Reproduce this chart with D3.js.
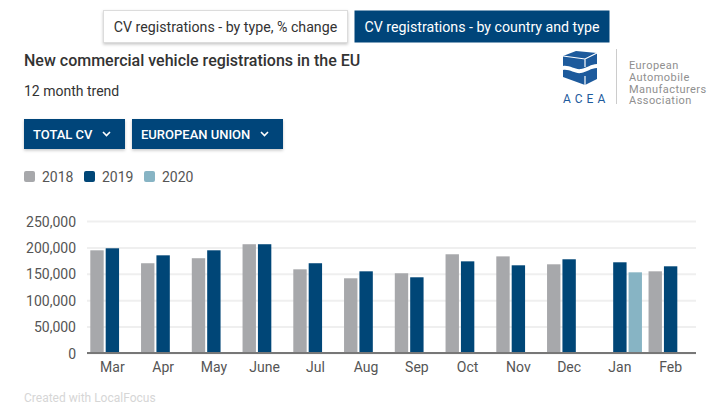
<!DOCTYPE html>
<html>
<head>
<meta charset="utf-8">
<script src="https://cdn.jsdelivr.net/npm/d3@7/dist/d3.min.js"></script>
<style>
  html, body { margin: 0; padding: 0; background: #fff; }
  svg { display: block; font-family: Roboto, "Noto Sans", sans-serif; }
</style>
</head>
<body>
<svg id="chart" width="717" height="413"></svg>
<script>
// ---- data ----
const months = ["Mar", "Apr", "May", "June", "Jul", "Aug", "Sep", "Oct", "Nov", "Dec", "Jan", "Feb"];
const years = ["2018", "2019", "2020"];
const values2018 = [194500, 170000, 179500, 206000, 158500, 141500, 151000, 187000, 183000, 168000, null, 154700];
const values2019 = [198300, 185000, 194500, 206000, 170000, 154700, 143400, 173600, 166100, 177500, 171800, 164200];
const values2020 = [null, null, null, null, null, null, null, null, null, null, 152800, null];
const yTicks = [0, 50000, 100000, 150000, 200000, 250000];
const tabLabels = ["CV registrations - by type, % change", "CV registrations - by country and type"];
const dropdownLabels = ["TOTAL CV", "EUROPEAN UNION"];
const logoLines = ["European", "Automobile", "Manufacturers", "Association"];

const colors = { "2018": "#a7a8ab", "2019": "#004677", "2020": "#87b4c4" };
const seriesByYear = { "2018": values2018, "2019": values2019, "2020": values2020 };

const svg = d3.select("#chart");
const defs = svg.append("defs");
const f = defs.append("filter").attr("id", "shadow").attr("x", "-10%").attr("y", "-20%").attr("width", "120%").attr("height", "160%");
f.append("feDropShadow").attr("dx", 0).attr("dy", 1.5).attr("stdDeviation", 1.5).attr("flood-color", "#000").attr("flood-opacity", 0.22);

// ---- tabs ----
const tabs = [
  { x: 103, w: 245, fill: "#ffffff", color: "#333", stroke: "#dcdcdc" },
  { x: 354, w: 256, fill: "#00457a", color: "#ffffff", stroke: "none" }
];
tabs.forEach((t, i) => {
  svg.append("rect").attr("x", t.x + 0.5).attr("y", 10.5).attr("width", t.w - 1).attr("height", 32)
    .attr("fill", t.fill).attr("stroke", t.stroke).attr("filter", i === 0 ? "url(#shadow)" : null);
  svg.append("text").attr("x", t.x + t.w / 2).attr("y", 31.5).attr("text-anchor", "middle")
    .attr("font-size", 14.2).attr("fill", t.color).text(tabLabels[i]);
});

// ---- title ----
svg.append("text").attr("x", 24).attr("y", 66).attr("font-size", 16).attr("font-weight", 500)
  .attr("fill", "#333").text("New commercial vehicle registrations in the EU");
svg.append("text").attr("x", 24).attr("y", 96).attr("font-size", 14).attr("fill", "#333").text("12 month trend");

// ---- logo ----
const logo = svg.append("g").attr("transform", "translate(563,51)");
const logoBlue = "#1d5a9c";
logo.append("path").attr("fill", logoBlue)
  .attr("d", "M0,5 L13,0 L34,2 L34,13 C28,13 24,17 18,18 C12,19 7,14 0,15 Z");
logo.append("path").attr("fill", "none").attr("stroke", "#fff").attr("stroke-width", 1.2)
  .attr("d", "M0,5 L22,8 L34,2 M22,8 L22,16");
logo.append("path").attr("fill", logoBlue)
  .attr("d", "M0,19 C7,18 12,23 18,22 C24,21 28,17 34,17 L34,28 L22,34 L0,26 Z");
logo.append("path").attr("fill", "none").attr("stroke", "#fff").attr("stroke-width", 1.2)
  .attr("d", "M22,25 L22,34");
logo.append("text").attr("x", 0).attr("y", 52).attr("font-size", 12).attr("letter-spacing", 4)
  .attr("fill", logoBlue).text("ACEA");
svg.append("line").attr("x1", 616.5).attr("x2", 616.5).attr("y1", 49).attr("y2", 104)
  .attr("stroke", "#ccc").attr("stroke-width", 1);
logoLines.forEach((t, i) => {
  svg.append("text").attr("x", 629).attr("y", 69 + i * 11.8).attr("font-size", 11)
    .attr("fill", "#8f8f8f").attr("letter-spacing", 0.45).text(t);
});

// ---- dropdowns ----
const dd = [{ x: 24, w: 101 }, { x: 132, w: 151 }];
dd.forEach((d, i) => {
  svg.append("rect").attr("x", d.x).attr("y", 119).attr("width", d.w).attr("height", 30)
    .attr("fill", "#00457a").attr("filter", "url(#shadow)");
  svg.append("text").attr("x", d.x + 9).attr("y", 139).attr("font-size", 13).attr("font-weight", 500)
    .attr("fill", "#fff").text(dropdownLabels[i]);
  const cx = d.x + d.w - 18.5;
  svg.append("path").attr("d", `M${cx - 3.5},${132} L${cx},${135.5} L${cx + 3.5},${132}`)
    .attr("fill", "none").attr("stroke", "#fff").attr("stroke-width", 1.6);
});

// ---- legend ----
const legendX = [24, 84, 144];
years.forEach((y, i) => {
  svg.append("rect").attr("x", legendX[i]).attr("y", 171).attr("width", 11).attr("height", 11)
    .attr("rx", 2).attr("fill", colors[y]);
  svg.append("text").attr("x", legendX[i] + 18).attr("y", 181.5).attr("font-size", 14)
    .attr("fill", "#555").text(y);
});

// ---- chart ----
const x0 = d3.scaleBand().domain(months).range([87, 696]).paddingInner(0.13).paddingOuter(0.065);
const x1 = d3.scaleBand().domain(years).range([0, x0.bandwidth()]).paddingInner(0.13);
const y = d3.scaleLinear().domain([0, 250000]).range([353, 221]);

const yAxis = svg.append("g").attr("transform", "translate(87,0)")
  .call(d3.axisLeft(y).tickValues(yTicks).tickSize(-609).tickFormat(d3.format(",")));
yAxis.select(".domain").remove();
yAxis.selectAll(".tick line").attr("stroke", "#efefef").attr("stroke-width", 2);
yAxis.selectAll(".tick text").attr("x", -11).attr("dy", "0.36em").attr("font-size", 14)
  .attr("font-family", "Roboto").attr("fill", "#555");

const barData = [];
months.forEach((m, i) => {
  years.forEach(yr => {
    const v = seriesByYear[yr][i];
    if (v != null) barData.push({ month: m, year: yr, value: v });
  });
});

svg.append("g").selectAll("rect").data(barData).join("rect")
  .attr("x", d => x0(d.month) + x1(d.year))
  .attr("y", d => y(d.value))
  .attr("width", x1.bandwidth())
  .attr("height", d => y(0) - y(d.value))
  .attr("fill", d => colors[d.year]);

svg.append("line").attr("x1", 87).attr("x2", 696).attr("y1", 353).attr("y2", 353)
  .attr("stroke", "#777").attr("stroke-width", 2);

const xAxis = svg.append("g").attr("transform", "translate(0,353)")
  .call(d3.axisBottom(x0).tickSize(0).tickPadding(0));
xAxis.select(".domain").remove();
xAxis.selectAll(".tick").attr("transform", d => `translate(${x0(d) + x1("2019") + x1.bandwidth() / 2},0)`);
xAxis.selectAll(".tick text").attr("y", 19).attr("dy", 0).attr("font-size", 14)
  .attr("font-family", "Roboto").attr("fill", "#555");

// ---- footer ----
svg.append("text").attr("x", 24).attr("y", 402).attr("font-size", 12).attr("fill", "#d6d6d6")
  .text("Created with LocalFocus");
</script>
</body>
</html>
